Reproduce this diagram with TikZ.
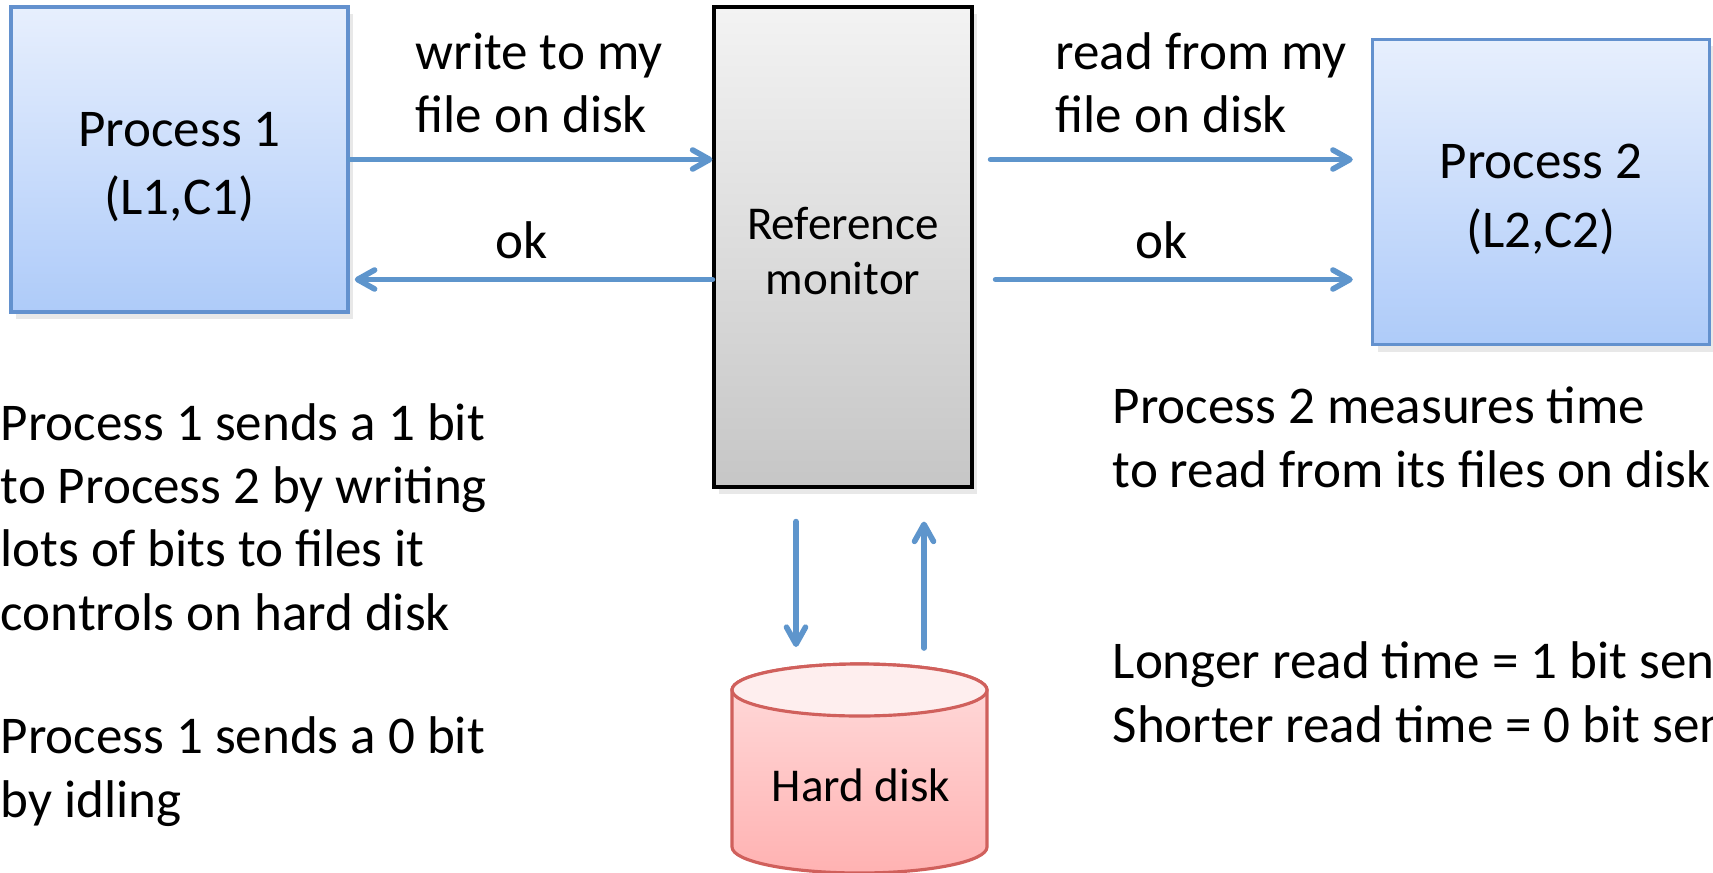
\documentclass[tikz,border=0pt]{standalone}
\usepackage{fontspec}
\setmainfont{Carlito}
\usetikzlibrary{arrows.meta, shadows}
\definecolor{proctop}{HTML}{E7EFFD}
\definecolor{procbot}{HTML}{AECBF9}
\definecolor{procborder}{HTML}{6391CE}
\definecolor{montop}{HTML}{F3F3F3}
\definecolor{monbot}{HTML}{C6C6C6}
\definecolor{diskcap}{HTML}{FEEEEE}
\definecolor{diskbodytop}{HTML}{FFDCDC}
\definecolor{diskbodybot}{HTML}{FFB2B2}
\definecolor{diskborder}{HTML}{D0605C}
\definecolor{flowblue}{HTML}{5E95CC}
\tikzset{
  proc/.style={rectangle, draw=procborder, line width=1pt, top color=proctop,
               bottom color=procbot, align=center, minimum width=3.37cm,
               minimum height=3.05cm, font=\fontsize{15.1}{19.5}\selectfont,
               drop shadow={shadow xshift=0.5mm, shadow yshift=-0.7mm, opacity=0.18}},
  refmon/.style={rectangle, draw=black, line width=0.9pt, top color=montop,
                 bottom color=monbot, align=center, minimum width=2.58cm,
                 minimum height=4.80cm, font=\fontsize{13.4}{15.8}\selectfont,
                 drop shadow={shadow xshift=0.5mm, shadow yshift=-0.7mm, opacity=0.18}},
  note/.style={align=left, inner sep=0pt, anchor=base west,
               font=\fontsize{15.1}{18}\selectfont},
  oktext/.style={inner sep=0pt, anchor=base, font=\fontsize{15.1}{18}\selectfont},
  cylbody/.style={draw=diskborder, line width=0.9pt},
  flow/.style={-{Straight Barb[length=1.7mm, width=1.9mm, round]}, line width=1.6pt,
               draw=flowblue, line cap=round},
}
% taller first line, so the box text sits a little lower
\newcommand\lowstrut[1]{\rule{0pt}{#1}}

\begin{document}
\begin{tikzpicture}
\useasboundingbox (0,0) rectangle (17.13,-8.72);
\clip (0,0) rectangle (17.13,-8.72);

% Processes and the monitor between them
\node[proc]   (p1)      at (1.795,-1.595) {\lowstrut{4.9mm}Process 1\\(L1,C1)};
\node[refmon] (monitor) at (8.43,-2.47)   {\lowstrut{4.0mm}Reference\\monitor};
\node[proc]   (p2)      at (15.41,-1.92)  {\lowstrut{4.9mm}Process 2\\(L2,C2)};

% Hard disk, drawn as a cylinder under the monitor
\shadedraw[cylbody, top color=diskbodytop, bottom color=diskbodybot]
  (7.32,-6.90) -- (7.32,-8.47)
  arc[start angle=180, end angle=360, x radius=1.275, y radius=0.26]
  -- (9.87,-6.90)
  arc[start angle=0, end angle=180, x radius=1.275, y radius=0.26] -- cycle;
\filldraw[cylbody, fill=diskcap] (8.595,-6.90) ellipse[x radius=1.275, y radius=0.26];
\node[font=\fontsize{13.4}{16}\selectfont] (disk) at (8.61,-7.85) {Hard disk};
\coordinate (disktop) at (8.595,-6.64);

% Arrow labels (base = last line)
\node[note] (writelbl) at (4.15,-1.33)  {write to my\\file on disk};
\node[note] (readlbl)  at (10.55,-1.33) {read from my\\file on disk};
\node[oktext] (okleft)  at (5.22,-2.58)  {ok};
\node[oktext] (okright) at (11.62,-2.58) {ok};

% Explanations
\node[note] (sendone)  at (0,-6.30)     {Process 1 sends a 1 bit\\to Process 2 by writing\\lots of bits to files it\\controls on hard disk};
\node[note] (sendzero) at (0,-8.17)     {Process 1 sends a 0 bit\\by idling};
\node[note] (measure)  at (11.12,-4.87) {Process 2 measures time\\to read from its files on disk};
\node[note] (decode)   at (11.12,-7.42) {Longer read time = 1 bit sent\\Shorter read time = 0 bit sent};

% Flow
\coordinate (okrow) at ([yshift=-12mm]p1.east);
\coordinate (diskin)  at ([xshift=-6.35mm]disktop);
\coordinate (diskout) at ([xshift=6.45mm]disktop);
\draw[flow] (p1.east) -- (p1.east -| monitor.west);
\draw[flow, shorten >=0.5mm] (okrow -| monitor.west) -- (okrow);
\draw[flow, shorten <=1.7mm, shorten >=1.8mm] (p1.east -| monitor.east) -- (p1.east -| p2.west);
\draw[flow, shorten <=2.2mm, shorten >=1.8mm] (okrow -| monitor.east) -- (okrow -| p2.west);
\draw[flow, shorten <=3.3mm, shorten >=1.7mm] (diskin |- monitor.south) -- (diskin);
\draw[flow, shorten <=1.6mm, shorten >=3.3mm] (diskout) -- (diskout |- monitor.south);

\end{tikzpicture}
\end{document}
